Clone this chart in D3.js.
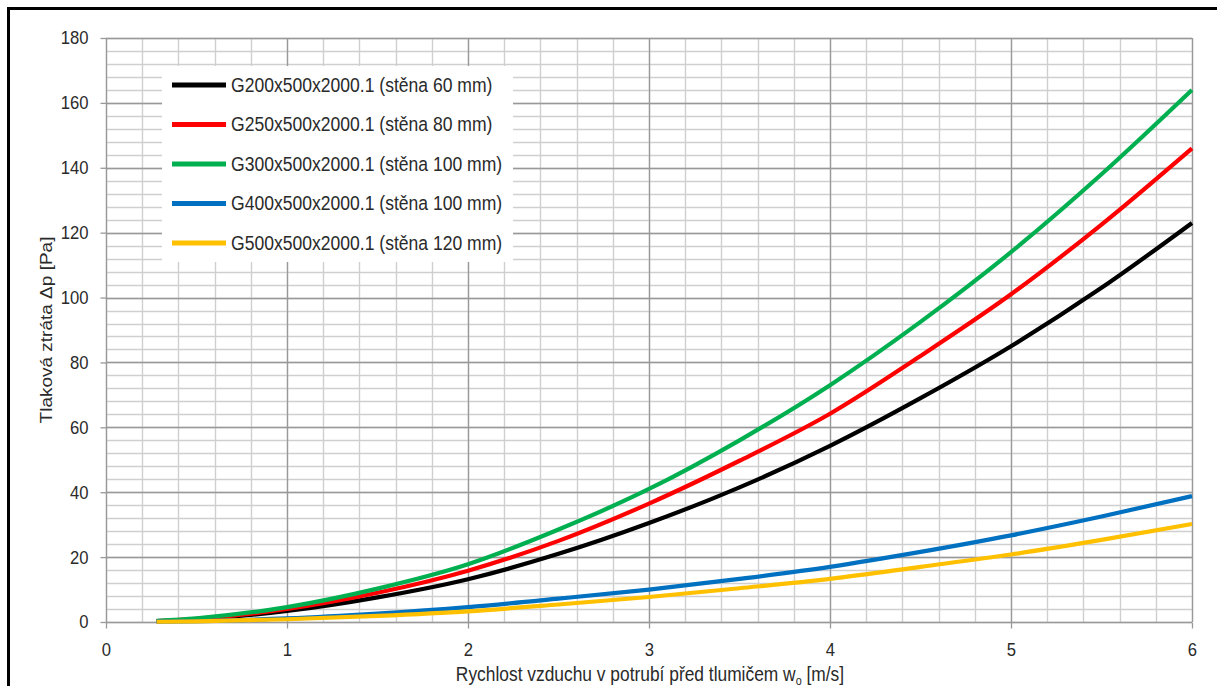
<!DOCTYPE html>
<html>
<head>
<meta charset="utf-8">
<script src="https://cdn.jsdelivr.net/npm/d3@7"></script>
<style>
  html, body { margin: 0; padding: 0; background: #fff; }
  svg { display: block; }
  text { font-family: "Liberation Sans", Arial, sans-serif; fill: #2a2a2a; }
</style>
</head>
<body>
<svg id="chart" width="1217" height="686"></svg>
<script>
// Air velocity in the duct upstream of the silencer [m/s]
const velocity = [0.28, 0.5, 1, 1.5, 2, 2.5, 3, 3.5, 4, 4.5, 5, 5.5, 6];

// Pressure loss [Pa] per silencer type
const g200 = [0.25, 0.85, 3.4, 7.6, 13.2, 21.0, 30.5, 41.5, 54.3, 69, 85, 103, 123];
const g250 = [0.3, 1.0, 4.0, 9.0, 15.8, 25.0, 36.5, 49.7, 64.2, 82, 101, 122.5, 146];
const g300 = [0.36, 1.15, 4.6, 10.3, 17.8, 28.5, 41, 56, 73, 92.5, 114, 138, 164];
const g400 = [0.1, 0.3, 1.1, 2.6, 4.6, 7.2, 10.0, 13.3, 17, 21.6, 26.7, 32.5, 38.8];
const g500 = [0.08, 0.22, 0.85, 1.9, 3.3, 5.4, 7.7, 10.4, 13.3, 17, 20.8, 25.3, 30.2];

const seriesNames = [
  "G200x500x2000.1 (stěna 60 mm)",
  "G250x500x2000.1 (stěna 80 mm)",
  "G300x500x2000.1 (stěna 100 mm)",
  "G400x500x2000.1 (stěna 100 mm)",
  "G500x500x2000.1 (stěna 120 mm)"
];
const seriesValues = [g200, g250, g300, g400, g500];
const seriesColors = ["#000000", "#ff0000", "#00b050", "#0070c0", "#ffc000"];

const xTickValues = [0, 1, 2, 3, 4, 5, 6];
const yTickValues = [0, 20, 40, 60, 80, 100, 120, 140, 160, 180];
const xMinorStep = 0.2;
const yMinorStep = 4;

const xTitle = "Rychlost vzduchu v potrubí před tlumičem w";
const xTitleSub = "o";
const xTitleEnd = " [m/s]";
const yTitle = "Tlaková ztráta Δp [Pa]";

// ---- layout ----
const svg = d3.select("#chart");
const plot = { left: 106, right: 1192, top: 38, bottom: 622 };
const textSquash = 0.9; // glyphs are drawn slightly condensed horizontally

const x = d3.scaleLinear().domain([0, 6]).range([plot.left, plot.right]);
const y = d3.scaleLinear().domain([0, 180]).range([plot.bottom, plot.top]);

// outer frame
svg.append("rect")
  .attr("x", 8.5).attr("y", 8.5)
  .attr("width", 1240).attr("height", 700)
  .attr("fill", "#fff")
  .attr("stroke", "#000").attr("stroke-width", 3);

// minor grid
const gGrid = svg.append("g");
const xMinor = d3.range(0, 6 + 1e-9, xMinorStep);
const yMinor = d3.range(0, 180 + 1e-9, yMinorStep);
gGrid.selectAll("line.xm").data(xMinor).join("line")
  .attr("x1", d => Math.round(x(d)) + 0.5).attr("x2", d => Math.round(x(d)) + 0.5)
  .attr("y1", plot.top).attr("y2", plot.bottom)
  .attr("stroke", "#cfcfcf").attr("stroke-width", 1.4);
gGrid.selectAll("line.ym").data(yMinor).join("line")
  .attr("y1", d => Math.round(y(d)) + 0.5).attr("y2", d => Math.round(y(d)) + 0.5)
  .attr("x1", plot.left).attr("x2", plot.right)
  .attr("stroke", "#cfcfcf").attr("stroke-width", 1.4);

// major grid
gGrid.selectAll("line.xM").data(xTickValues).join("line")
  .attr("x1", d => Math.round(x(d)) + 0.5).attr("x2", d => Math.round(x(d)) + 0.5)
  .attr("y1", plot.top).attr("y2", plot.bottom)
  .attr("stroke", "#999").attr("stroke-width", 1.3);
gGrid.selectAll("line.yM").data(yTickValues).join("line")
  .attr("y1", d => Math.round(y(d)) + 0.5).attr("y2", d => Math.round(y(d)) + 0.5)
  .attr("x1", plot.left).attr("x2", plot.right)
  .attr("stroke", "#999").attr("stroke-width", 1.3);

// axes (ticks + labels)
const xAxis = svg.append("g")
  .attr("transform", `translate(0,${plot.bottom + 0.5})`)
  .call(d3.axisBottom(x).tickValues(xTickValues).tickFormat(d3.format("d"))
    .tickSize(6).tickSizeOuter(0).tickPadding(14));
const yAxis = svg.append("g")
  .attr("transform", `translate(${plot.left + 0.5},0)`)
  .call(d3.axisLeft(y).tickValues(yTickValues).tickFormat(d3.format("d"))
    .tickSize(6).tickSizeOuter(0).tickPadding(12));
[xAxis, yAxis].forEach(a => {
  a.select(".domain").remove();
  a.selectAll(".tick line").attr("stroke", "#999").attr("stroke-width", 1.3);
  a.selectAll(".tick text")
    .attr("fill", "#2a2a2a")
    .style("font-family", '"Liberation Sans", Arial, sans-serif')
    .style("font-size", "18.5px");
});
// condensed tick labels: squash around their anchor
xAxis.selectAll(".tick text").attr("transform", `scale(${textSquash},1)`);
yAxis.selectAll(".tick text").each(function () {
  const t = d3.select(this);
  const xo = +t.attr("x");
  t.attr("x", xo / textSquash).attr("transform", `scale(${textSquash},1)`);
});

// series lines
const line = d3.line()
  .x((d, i) => x(velocity[i]))
  .y(d => y(d))
  .curve(d3.curveMonotoneX);

svg.append("g").selectAll("path").data(seriesValues).join("path")
  .attr("d", d => line(d))
  .attr("fill", "none")
  .attr("stroke", (d, i) => seriesColors[i])
  .attr("stroke-width", 4.2)
  .attr("stroke-linejoin", "round");

// legend
const legend = svg.append("g");
legend.append("rect")
  .attr("x", 162).attr("y", 66).attr("width", 351).attr("height", 196)
  .attr("fill", "#fff");
const rowY0 = 85, rowStep = 39.5;
const items = legend.selectAll("g.item").data(seriesNames).join("g")
  .attr("transform", (d, i) => `translate(0,${rowY0 + i * rowStep})`);
items.append("line")
  .attr("x1", 172).attr("x2", 226).attr("y1", 0).attr("y2", 0)
  .attr("stroke", (d, i) => seriesColors[i])
  .attr("stroke-width", 5);
items.append("text")
  .attr("transform", `translate(231,0) scale(${textSquash},1)`)
  .attr("dy", "0.35em")
  .style("font-size", "19.5px")
  .text(d => d);

// axis titles
const xt = svg.append("text")
  .attr("transform", `translate(${(plot.left + plot.right) / 2 + 1},681) scale(${textSquash},1)`)
  .attr("text-anchor", "middle")
  .style("font-size", "19.3px");
xt.append("tspan").text(xTitle);
xt.append("tspan").attr("dy", 4).style("font-size", "12px").text(xTitleSub);
xt.append("tspan").attr("dy", -4).text(xTitleEnd);

svg.append("text")
  .attr("transform", `translate(52,${(plot.top + plot.bottom) / 2}) scale(${textSquash},1) rotate(-90)`)
  .attr("text-anchor", "middle")
  .style("font-size", "19px")
  .text(yTitle);
</script>
</body>
</html>
